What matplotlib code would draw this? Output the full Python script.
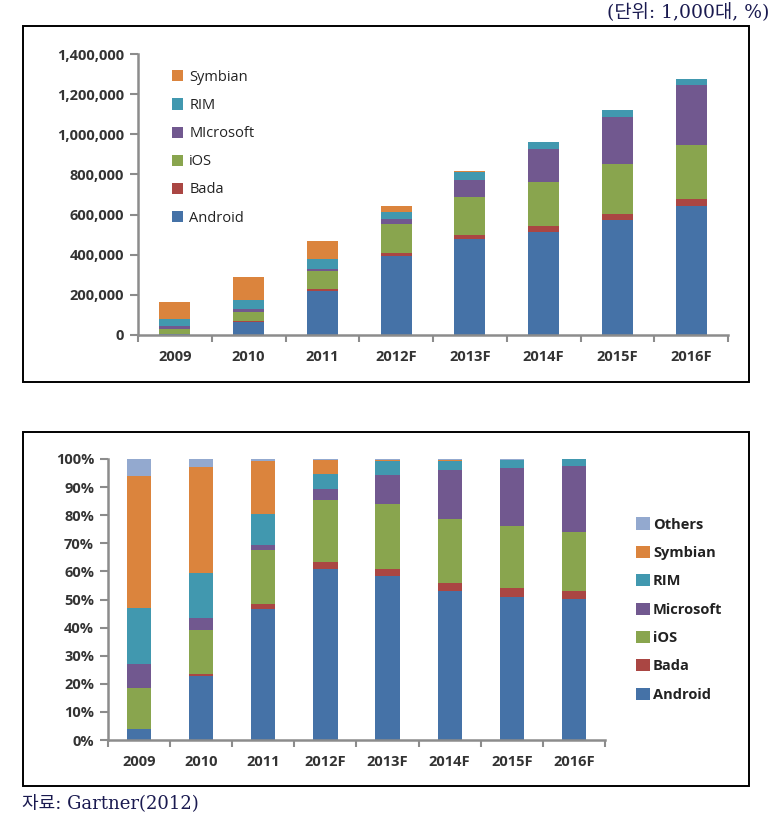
import numpy as np
import matplotlib.pyplot as plt
from matplotlib.patches import Rectangle

# 연도별 OS 판매량 (단위: 1,000대)
years = ['2009', '2010', '2011', '2012F', '2013F', '2014F', '2015F', '2016F']
android = [6798, 67225, 219518, 393000, 478000, 511000, 572000, 643000]
bada = [0, 2600, 9600, 17000, 21000, 30000, 33000, 35000]
ios = [24889, 46598, 89263, 143000, 187000, 219000, 249000, 269000]
microsoft = [15031, 12378, 8771, 24000, 86000, 167000, 232000, 299000]
rim = [34346, 47452, 51542, 35000, 41000, 33000, 33000, 30000]
symbian = [80878, 111577, 89930, 32000, 3000, 2500, 500, 0]
others = [10434, 8817, 3059, 3000, 2000, 4000, 2000, 1500]

names_top = ['Android', 'Bada', 'iOS', 'MIcrosoft', 'RIM', 'Symbian']
names_bot = ['Android', 'Bada', 'iOS', 'Microsoft', 'RIM', 'Symbian', 'Others']
colors = ['#4572A7', '#AA4643', '#89A54E', '#71588F', '#4198AF', '#DB843D', '#93A9CF']

plt.rcParams['font.family'] = ['Open Sans', 'DejaVu Sans']
W, H = 771, 823
fig = plt.figure(figsize=(W / 100, H / 100), dpi=100)


def fx(px):
    return px / W


def fy(py):
    return 1 - py / H


# 바깥 테두리
for top, bot in [(26, 382), (432, 786)]:
    fig.patches.append(Rectangle((fx(23), fy(bot)), fx(749) - fx(23), fy(top) - fy(bot),
                                 transform=fig.transFigure, fill=False,
                                 edgecolor='black', linewidth=1.4))


def style_axes(ax, xpad):
    for s in ['top', 'right']:
        ax.spines[s].set_visible(False)
    for s in ['left', 'bottom']:
        ax.spines[s].set_color('#8c8c8c')
        ax.spines[s].set_linewidth(1.8)
    ax.tick_params(axis='y', length=6, width=1.5, color='#8c8c8c', labelsize=10.5,
                   labelcolor='#333333', pad=4)
    ax.tick_params(axis='x', which='major', length=0, labelsize=10.5,
                   labelcolor='#333333', pad=xpad)
    ax.tick_params(axis='x', which='minor', length=5, width=1.5, color='#8c8c8c')
    for lb in ax.get_xticklabels() + ax.get_yticklabels():
        lb.set_fontweight('bold')
    ax.set_xlim(-0.5, len(years) - 0.5)


x = np.arange(len(years))

# 위쪽: 판매량
ax1 = fig.add_axes([fx(138), fy(335), fx(728) - fx(138), fy(54) - fy(335)])
series_top = [android, bada, ios, microsoft, rim, symbian]
bottom = np.zeros(len(years))
handles = []
for vals, c, n in zip(series_top, colors, names_top):
    h = ax1.bar(x, vals, 0.42, bottom=bottom, color=c, label=n)
    handles.append(h)
    bottom += np.array(vals)
ax1.set_ylim(0, 1400000)
ax1.set_yticks(np.arange(0, 1400001, 200000))
ax1.set_yticklabels([f'{v:,}' for v in range(0, 1400001, 200000)])
ax1.set_xticks(x)
ax1.set_xticklabels(years)
ax1.set_xticks(np.arange(-0.5, len(years), 1.0), minor=True)
style_axes(ax1, 11)
ax1.legend(handles[::-1], names_top[::-1], loc='upper left',
           bbox_to_anchor=(0.035, 0.99), frameon=False, fontsize=10.5,
           handlelength=0.8, handleheight=0.8, handletextpad=0.4,
           labelspacing=0.9, labelcolor='#222222')

# 아래쪽: 점유율
ax2 = fig.add_axes([fx(108), fy(740), fx(605) - fx(108), fy(459) - fy(740)])
series_bot = [android, bada, ios, microsoft, rim, symbian, others]
total = np.sum(np.array(series_bot, dtype=float), axis=0)
bottom = np.zeros(len(years))
handles = []
for vals, c, n in zip(series_bot, colors, names_bot):
    pct = np.array(vals) / total
    h = ax2.bar(x, pct, 0.39, bottom=bottom, color=c, label=n)
    handles.append(h)
    bottom += pct
ax2.set_ylim(0, 1)
ax2.set_yticks(np.arange(0, 1.01, 0.1))
ax2.set_yticklabels([f'{int(round(v * 100))}%' for v in np.arange(0, 1.01, 0.1)])
ax2.set_xticks(x)
ax2.set_xticklabels(years)
ax2.set_xticks(np.arange(-0.5, len(years), 1.0), minor=True)
style_axes(ax2, 11)
ax2.legend(handles[::-1], names_bot[::-1], loc='center left',
           bbox_to_anchor=(1.035, 0.464), frameon=False, fontsize=10.5,
           handlelength=1.0, handleheight=0.9, handletextpad=0.2,
           labelspacing=0.98, labelcolor='#222222')
for t in ax2.get_legend().get_texts():
    t.set_fontweight('bold')

cjk = ['DejaVu Serif', 'Noto Sans CJK KR']
fig.text(fx(769), fy(13), '(단위: 1,000대, %)', ha='right', va='center', fontsize=13.5,
         family=cjk, color='#1a1a50')
fig.text(fx(22), fy(803), '자료: Gartner(2012)', ha='left', va='center', fontsize=13,
         family=cjk, color='#1a1a50')

fig.savefig('out.png', dpi=100)
